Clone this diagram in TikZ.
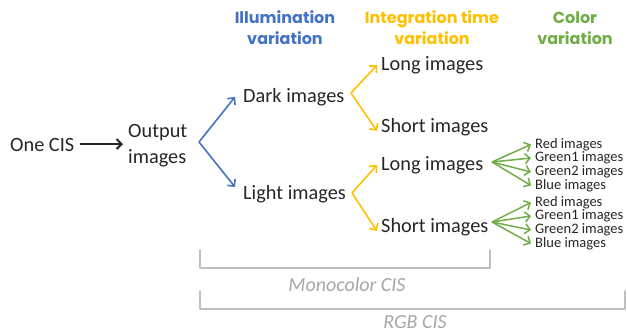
\documentclass[tikz,border=0pt]{standalone}
\usepackage{fontspec}
\setmainfont{Carlito}
\newfontfamily\headfont{Poppins}
\usetikzlibrary{arrows.meta}
\definecolor{cblue}{HTML}{4472C4}
\definecolor{cyellow}{HTML}{FFC000}
\definecolor{cgreen}{HTML}{70AD47}
\definecolor{cbracket}{HTML}{BFBFBF}
\definecolor{clabel}{HTML}{A6A6A6}
\begin{document}
\begin{tikzpicture}[x=1pt,y=-1pt,
  txt/.style={inner sep=0pt,font=\fontsize{20.3}{22}\selectfont,text=black!85},
  small/.style={inner sep=0pt,anchor=west,font=\fontsize{14.5}{15}\selectfont,text=black!85},
  head/.style={inner sep=0pt,align=center,font=\headfont\bfseries\fontsize{16}{21}\selectfont},
  arr/.style={line width=1.6pt,-{Straight Barb[length=5pt,width=10pt]}},
  brk/.style={draw=cbracket,line width=2pt,line cap=round,line join=round},
  brklabel/.style={inner sep=0pt,text=clabel,font=\itshape\fontsize{20}{22}\selectfont}]
\useasboundingbox (0,0) rectangle (627,333);

% column headings
\node[head,text=cblue]   (h1) at (285,28) {Illumination\\variation};
\node[head,text=cyellow] (h2) at (432,28) {Integration time\\variation};
\node[head,text=cgreen]  (h3) at (575,28) {Color\\variation};

% main chain
\node[txt,anchor=west] (cis) at (10,145) {One CIS};
\node[txt,anchor=west,align=left,font=\fontsize{20.3}{26}\selectfont] (out) at (128,146) {Output\\images};
\coordinate (cisA) at (80,144);
\coordinate (cisB) at (123,144);
\draw[arr,black!85,line width=2pt] (cisA) -- (cisB);

% illumination split
\coordinate (b0) at (199,142);
\node[txt,anchor=west] (dark)  at (243,97)  {Dark images};
\node[txt,anchor=west] (light) at (243,194) {Light images};
\coordinate (bd) at (235,97);
\coordinate (bl) at (235,187);
\draw[arr,cblue] (b0) -- (bd);
\draw[arr,cblue] (b0) -- (bl);

% integration time split
\node[txt,anchor=west] (dlong)  at (381,65)  {Long images};
\node[txt,anchor=west] (dshort) at (381,127) {Short images};
\node[txt,anchor=west] (llong)  at (381,165) {Long images};
\node[txt,anchor=west] (lshort) at (381,227) {Short images};
\coordinate (y1) at (351,93);
\coordinate (y2) at (352,193);
\draw[arr,cyellow] (y1) -- ([xshift=-4pt]dlong.west);
\draw[arr,cyellow] (y1) -- ([xshift=-4pt,yshift=-4pt]dshort.west);
\draw[arr,cyellow] (y2) -- ([xshift=-4pt]llong.west);
\draw[arr,cyellow] (y2) -- ([xshift=-4pt,yshift=-4pt]lshort.west);

% colour split, long images
\coordinate (g1) at (492,162);
\node[small] (r1)  at (535,144.5) {Red images};
\node[small] (ga1) at (535,158) {Green1 images};
\node[small] (gb1) at (535,172) {Green2 images};
\node[small] (bl1) at (535,185.5) {Blue images};
\foreach \t in {r1,ga1,gb1,bl1}
  \draw[arr,cgreen,line width=1.5pt] (g1) -- ([xshift=-4pt]\t.west);

% colour split, short images
\coordinate (g2) at (492,222);
\node[small] (r2)  at (535,202.5) {Red images};
\node[small] (ga2) at (535,216) {Green1 images};
\node[small] (gb2) at (535,230) {Green2 images};
\node[small] (bl2) at (535,243.5) {Blue images};
\foreach \t in {r2,ga2,gb2,bl2}
  \draw[arr,cgreen,line width=1.5pt] (g2) -- ([xshift=-4pt]\t.west);

% brackets
\draw[brk] (200,250) -- (200,268) -- (490,268) -- (490,250);
\node[brklabel] (mono) at (347,285) {Monocolor CIS};
\draw[brk] (200,291) -- (200,309) -- (625,309) -- (625,291);
\node[brklabel] (rgb) at (415,322) {RGB CIS};
\end{tikzpicture}
\end{document}
